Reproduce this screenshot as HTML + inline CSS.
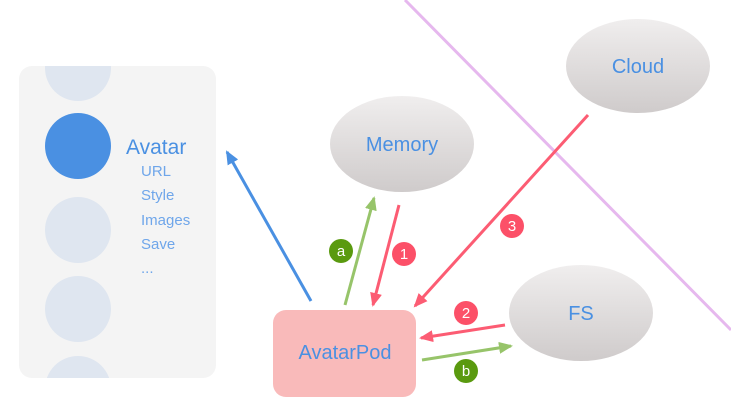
<!DOCTYPE html>
<html><head><meta charset="utf-8"><style>
html,body{margin:0;padding:0;background:#fff;}
svg{display:block;font-family:"Liberation Sans",Helvetica,Arial,sans-serif;}
</style></head><body>
<svg width="731" height="413" viewBox="0 0 731 413" xmlns="http://www.w3.org/2000/svg">
<defs>
<linearGradient id="g" x1="0" y1="0" x2="0" y2="1">
<stop offset="0" stop-color="#f0eeee"/><stop offset="1" stop-color="#cfcbcb"/>
</linearGradient>
<clipPath id="cp"><rect x="19" y="66" width="197" height="312" rx="13"/></clipPath>
<marker id="mb" markerWidth="14" markerHeight="12" refX="12" refY="6" orient="auto" markerUnits="userSpaceOnUse"><path d="M0,0 L14,6 L0,12 z" fill="#4a90e2"/></marker>
<marker id="mr" markerWidth="14" markerHeight="12" refX="12" refY="6" orient="auto" markerUnits="userSpaceOnUse"><path d="M0,0 L14,6 L0,12 z" fill="#fc5c73"/></marker>
<marker id="mg" markerWidth="14" markerHeight="12" refX="12" refY="6" orient="auto" markerUnits="userSpaceOnUse"><path d="M0,0 L14,6 L0,12 z" fill="#97c46a"/></marker>
</defs>
<line x1="405" y1="0" x2="731" y2="330" stroke="#e6b8ee" stroke-width="3"/>
<rect x="19" y="66" width="197" height="312" rx="13" fill="#f4f4f4"/>
<g clip-path="url(#cp)" fill="#dfe6f0">
<circle cx="78" cy="68" r="33"/>
<circle cx="78" cy="230" r="33"/>
<circle cx="78" cy="309" r="33"/>
<circle cx="78" cy="389" r="33"/>
</g>
<circle cx="78" cy="146" r="33" fill="#4a90e2"/>
<text x="126" y="154" font-size="21" fill="#4a90e2">Avatar</text>
<g font-size="15" fill="#6fa6ea">
<text x="141" y="176">URL</text>
<text x="141" y="200">Style</text>
<text x="141" y="225">Images</text>
<text x="141" y="249">Save</text>
<text x="141" y="273">...</text>
</g>
<ellipse cx="402" cy="144" rx="72" ry="48" fill="url(#g)"/>
<text x="402" y="151" font-size="20" fill="#4a90e2" text-anchor="middle">Memory</text>
<ellipse cx="638" cy="66" rx="72" ry="47" fill="url(#g)"/>
<text x="638" y="73" font-size="20" fill="#4a90e2" text-anchor="middle">Cloud</text>
<ellipse cx="581" cy="313" rx="72" ry="48" fill="url(#g)"/>
<text x="581" y="320" font-size="20" fill="#4a90e2" text-anchor="middle">FS</text>
<rect x="273" y="310" width="143" height="87" rx="13" fill="#f9baba"/>
<text x="345" y="359" font-size="20" fill="#4a90e2" text-anchor="middle">AvatarPod</text>
<line x1="311" y1="301" x2="227" y2="152" stroke="#4a90e2" stroke-width="3" marker-end="url(#mb)"/>
<line x1="345" y1="305" x2="374" y2="198" stroke="#97c46a" stroke-width="3" marker-end="url(#mg)"/>
<line x1="399" y1="205" x2="373" y2="305" stroke="#fc5c73" stroke-width="3" marker-end="url(#mr)"/>
<line x1="588" y1="115" x2="415" y2="306" stroke="#fc5c73" stroke-width="3" marker-end="url(#mr)"/>
<line x1="505" y1="325" x2="421" y2="338" stroke="#fc5c73" stroke-width="3" marker-end="url(#mr)"/>
<line x1="422" y1="360" x2="511" y2="346" stroke="#97c46a" stroke-width="3" marker-end="url(#mg)"/>
<g font-size="15" fill="#fff" text-anchor="middle">
<circle cx="341" cy="251" r="12" fill="#5a9a0f"/><text x="341" y="256">a</text>
<circle cx="404" cy="254" r="12" fill="#fc5068"/><text x="404" y="259">1</text>
<circle cx="512" cy="226" r="12" fill="#fc5068"/><text x="512" y="231">3</text>
<circle cx="466" cy="313" r="12" fill="#fc5068"/><text x="466" y="318">2</text>
<circle cx="466" cy="371" r="12" fill="#5a9a0f"/><text x="466" y="376">b</text>
</g>
</svg>
</body></html>
